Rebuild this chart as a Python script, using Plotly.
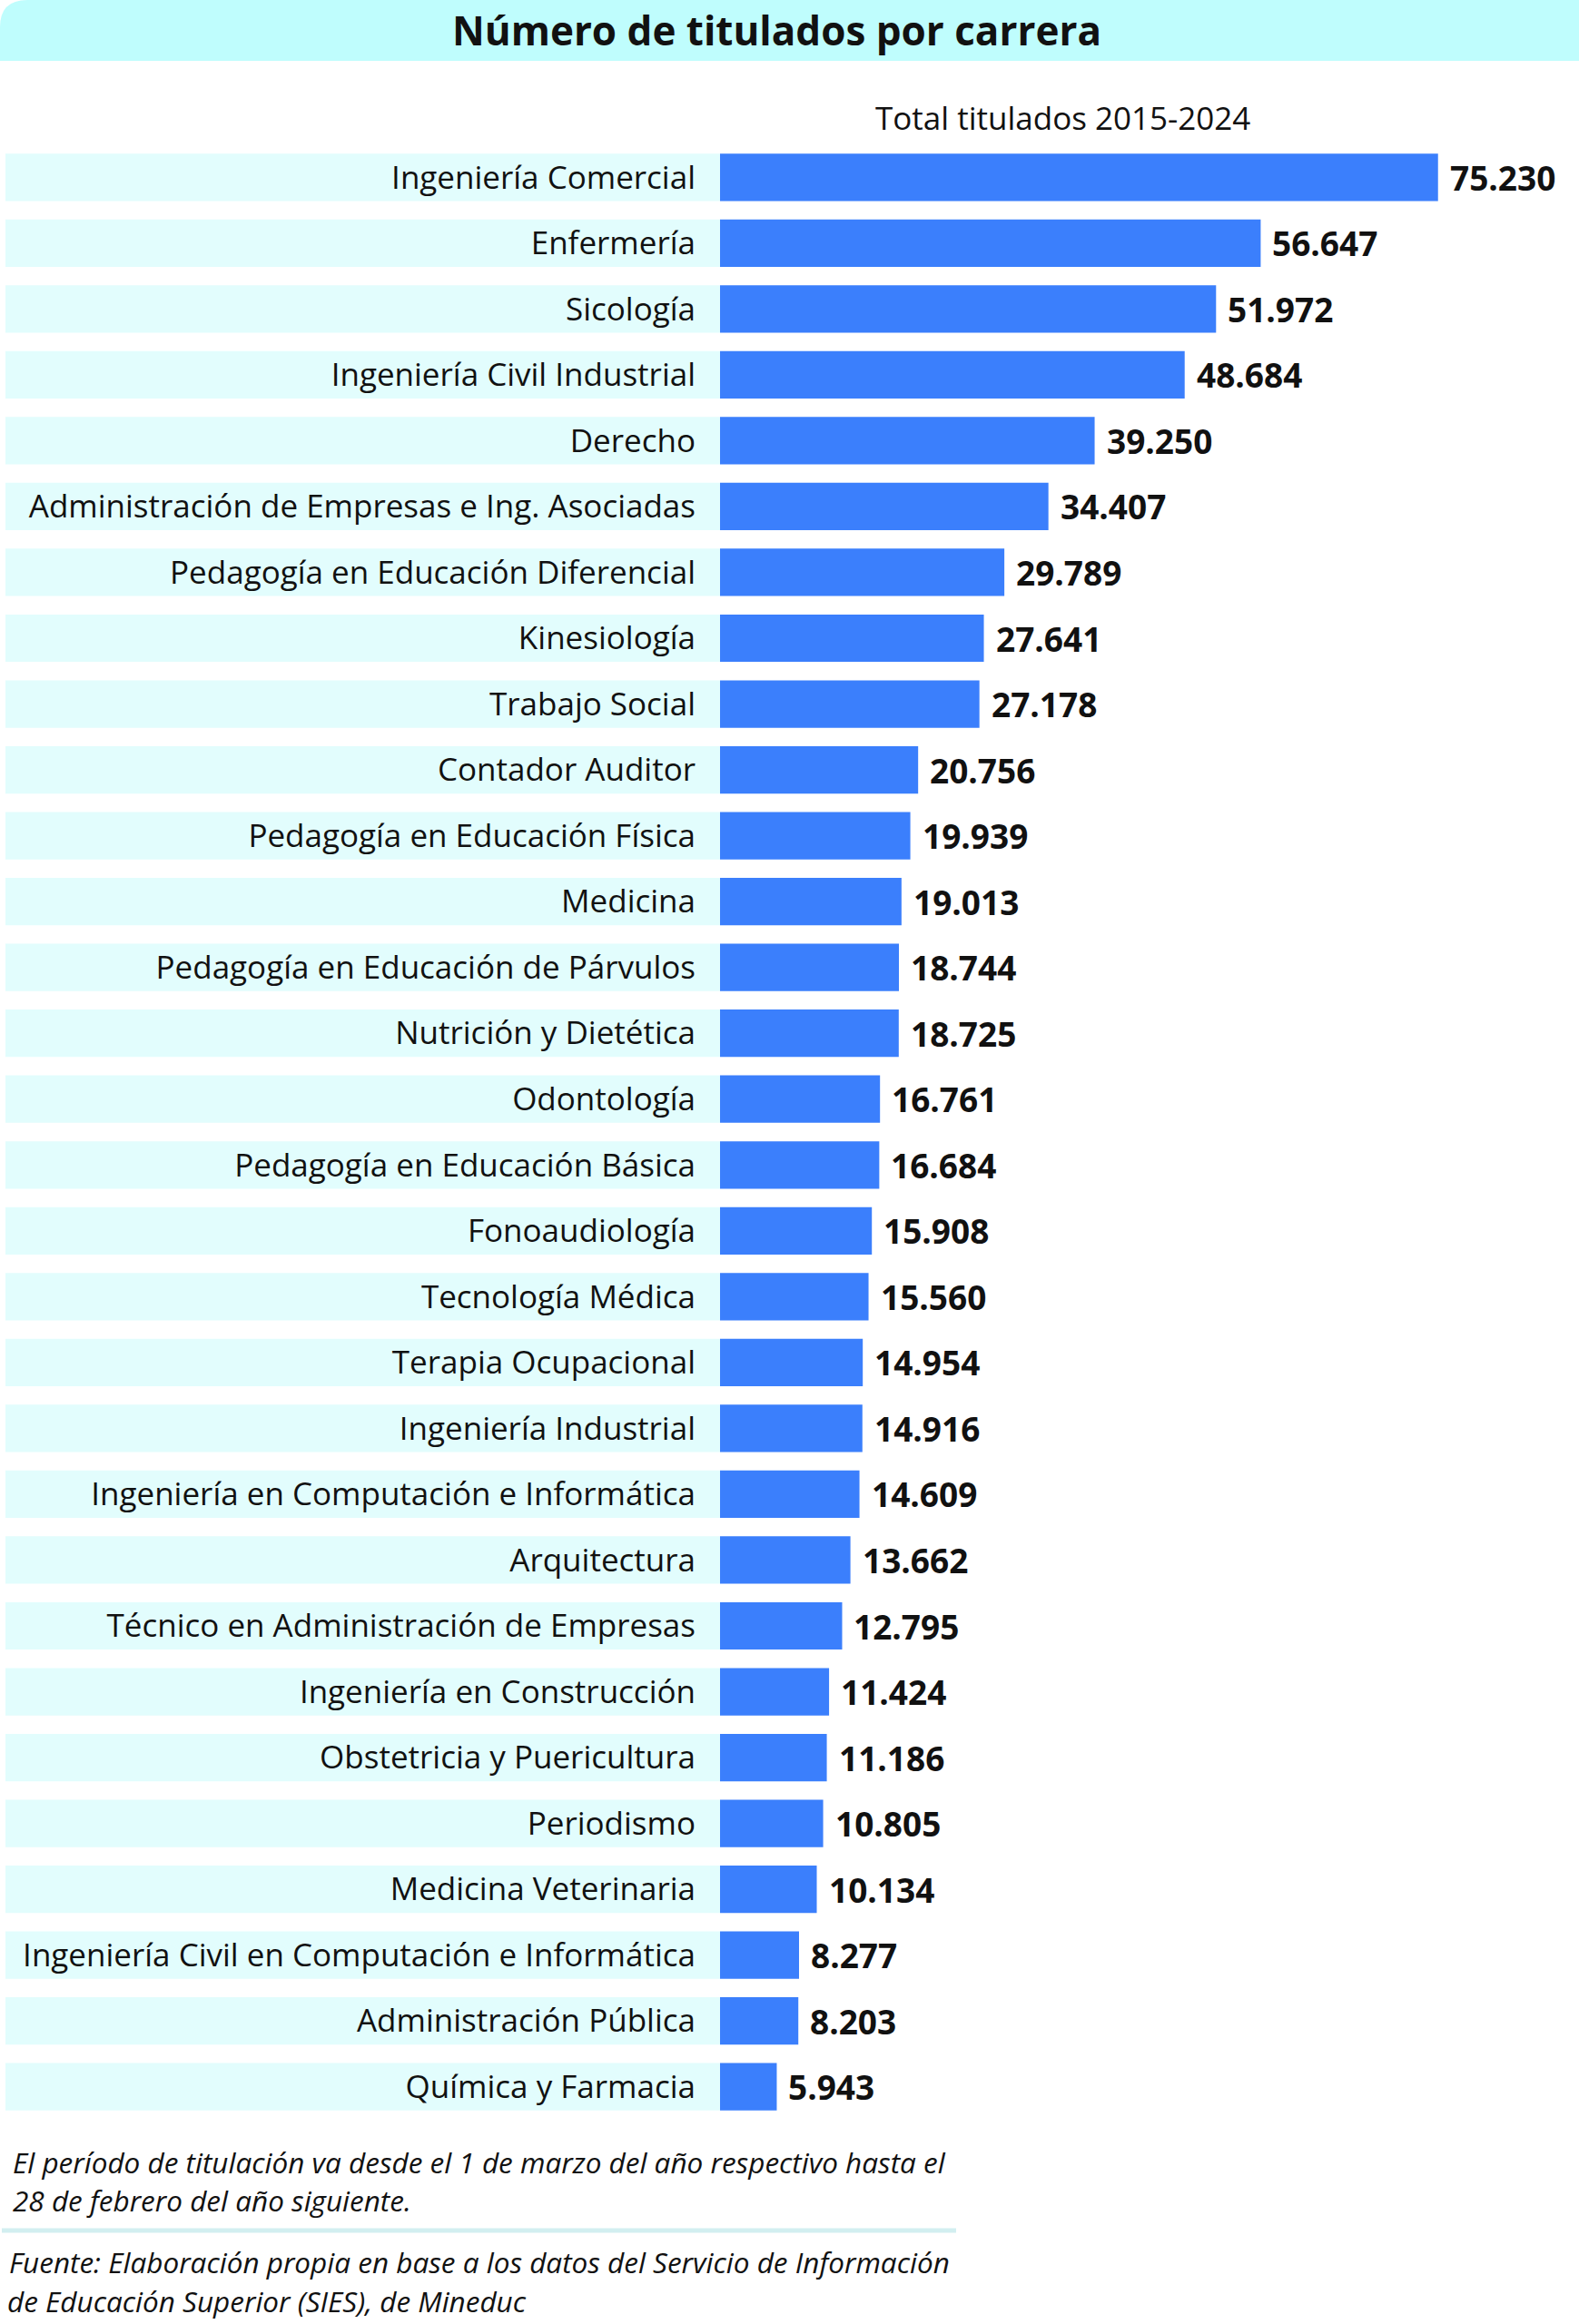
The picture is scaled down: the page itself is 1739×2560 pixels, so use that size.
import plotly.graph_objects as go

carreras = [
    "Ingeniería Comercial", "Enfermería", "Sicología", "Ingeniería Civil Industrial",
    "Derecho", "Administración de Empresas e Ing. Asociadas",
    "Pedagogía en Educación Diferencial", "Kinesiología", "Trabajo Social",
    "Contador Auditor", "Pedagogía en Educación Física", "Medicina",
    "Pedagogía en Educación de Párvulos", "Nutrición y Dietética", "Odontología",
    "Pedagogía en Educación Básica", "Fonoaudiología", "Tecnología Médica",
    "Terapia Ocupacional", "Ingeniería Industrial",
    "Ingeniería en Computación e Informática", "Arquitectura",
    "Técnico en Administración de Empresas", "Ingeniería en Construcción",
    "Obstetricia y Puericultura", "Periodismo", "Medicina Veterinaria",
    "Ingeniería Civil en Computación e Informática", "Administración Pública",
    "Química y Farmacia",
]
titulados = [
    75230, 56647, 51972, 48684, 39250, 34407, 29789, 27641, 27178, 20756,
    19939, 19013, 18744, 18725, 16761, 16684, 15908, 15560, 14954, 14916,
    14609, 13662, 12795, 11424, 11186, 10805, 10134, 8277, 8203, 5943,
]

titulo = "Número de titulados por carrera"
subtitulo = "Total titulados 2015-2024"
nota = ["El período de titulación va desde el 1 de marzo del año respectivo hasta el",
        "28 de febrero del año siguiente."]
fuente = ["Fuente: Elaboración propia en base a los datos del Servicio de Información",
          "de Educación Superior (SIES), de Mineduc"]

W, H = 1739, 2560
L, R, T, B = 793, 0, 159, 225
FONT = "Open Sans"


def px(x):
    # pixeles de la página -> coordenada paper
    return (x - L) / (W - L - R)


def py(y):
    return (H - B - y) / (H - T - B)


fig = go.Figure()
fig.add_trace(go.Bar(
    x=titulados,
    y=carreras,
    orientation='h',
    marker=dict(color='#3b7ffc', line=dict(width=0)),
    hoverinfo='skip',
))

shapes = []
# fondo de cada fila
for i in range(len(carreras)):
    shapes.append(dict(type='rect', xref='paper', yref='y', layer='below',
                       x0=px(6), x1=px(793), y0=i - 0.36, y1=i + 0.36,
                       fillcolor='#e2fdfd', line=dict(width=0)))
# franja del título con esquina redondeada
path = (f"M {px(0)},{py(67)} L {px(0)},{py(30)} Q {px(0)},{py(0)} {px(30)},{py(0)} "
        f"L {px(W)},{py(0)} L {px(W)},{py(67)} Z")
shapes.append(dict(type='path', xref='paper', yref='paper', path=path,
                   fillcolor='#bffdfd', line=dict(width=0)))
shapes.append(dict(type='line', xref='paper', yref='paper',
                   x0=px(2), x1=px(1053), y0=py(2457), y1=py(2457),
                   line=dict(color='#d2eff0', width=5)))

annotations = []
for c, v in zip(carreras, titulados):
    annotations.append(dict(x=v, y=c, xref='x', yref='y', xanchor='left',
                            yanchor='middle', xshift=11, showarrow=False,
                            text=f"<b>{v:,}</b>".replace(",", "."),
                            font=dict(family=FONT, size=37, color='#111111')))
annotations.append(dict(x=px(855), y=py(33), xref='paper', yref='paper',
                        xanchor='center', yanchor='middle',
                        text=f"<b>{titulo}</b>", showarrow=False,
                        font=dict(family=FONT, size=44, color='#111111')))
annotations.append(dict(x=px(1170), y=py(129), xref='paper', yref='paper',
                        xanchor='center', yanchor='middle',
                        text=subtitulo, showarrow=False,
                        font=dict(family=FONT, size=35, color='#111111')))
for texto, xx, yy in zip(nota + fuente, [12, 12, 8, 6], [2381, 2423, 2491, 2534]):
    annotations.append(dict(x=px(xx), y=py(yy), xref='paper', yref='paper',
                            xanchor='left', yanchor='middle',
                            text=f"<i>{texto}</i>", showarrow=False,
                            font=dict(family=FONT, size=31.5, color='#111111')))

fig.update_layout(
    width=W, height=H,
    margin=dict(l=L, r=R, t=T, b=B, pad=0),
    paper_bgcolor='white', plot_bgcolor='white',
    bargap=0.28,
    showlegend=False,
    shapes=shapes,
    annotations=annotations,
    xaxis=dict(range=[0, 90000], visible=False, fixedrange=True),
    yaxis=dict(autorange='reversed', showgrid=False, zeroline=False, showline=False,
               ticks='', ticklabelstandoff=26,
               tickfont=dict(family=FONT, size=35, color='#111111'), fixedrange=True),
)
fig.write_html("out.html", config={'displayModeBar': False},
               post_script="document.body.style.margin='0px';")
